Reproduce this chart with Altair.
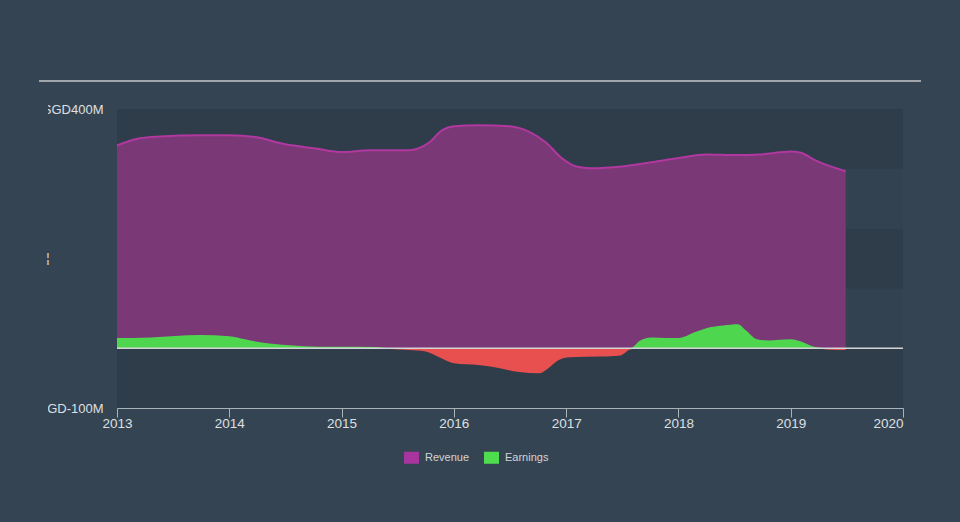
import altair as alt
import pandas as pd

# ---- data ----
rev_x = [2013.0, 2013.2, 2013.38, 2013.74, 2014.0, 2014.23, 2014.5, 2014.77, 2015.0, 2015.25,
         2015.6, 2015.78, 2015.9, 2016.0, 2016.22, 2016.5, 2016.68, 2016.82, 2016.96, 2017.09,
         2017.22, 2017.5, 2017.76, 2018.0, 2018.25, 2018.5, 2018.73, 2019.0, 2019.09, 2019.22, 2019.49]
revenue = [339, 351, 354, 356, 356, 353, 341, 334, 328, 331,
           331, 344, 365, 371, 373, 371, 361, 344, 318, 304,
           301, 304, 311, 318, 324, 323, 324, 329, 327, 314, 296]

earn_x = [2013.0, 2013.3, 2013.74, 2014.0, 2014.14, 2014.27, 2014.54, 2014.8, 2015.0, 2015.3,
          2015.43, 2015.6, 2015.74, 2015.87, 2016.0, 2016.22, 2016.4, 2016.58, 2016.76, 2016.83,
          2016.93, 2017.03, 2017.3, 2017.48, 2017.57, 2017.66, 2017.76, 2017.9, 2018.0, 2018.15,
          2018.28, 2018.4, 2018.53, 2018.6, 2018.7, 2018.8, 2019.0, 2019.08, 2019.22, 2019.35, 2019.49]
earnings = [17, 18, 22, 20, 15, 10, 5, 2.5, 2.5, 2,
            -1.5, -3, -5, -15, -25, -28, -33, -40, -42, -35,
            -20, -15, -14, -12, -2, 13, 18, 17, 17, 27,
            35, 38, 40, 30, 15, 13, 15, 12, 2, -2.5, -3]

series_names = ["Revenue", "Earnings"]
legend_colors = ["#a8349e", "#4fdd4f"]

band_lo = [-100, 0, 100, 200, 300]
band_hi = [0, 100, 200, 300, 400]
band_kind = ["dark", "light", "dark", "light", "dark"]

year_ticks = [2013, 2014, 2015, 2016, 2017, 2018, 2019, 2020]
y_ticks = [-100, 400]

W, H = 786, 299
BG = "#354452"
FONT = "Liberation Sans"

rev_df = pd.DataFrame({"x": rev_x, "v": revenue})
earn_df = pd.DataFrame({"x": earn_x, "v": earnings})
band_df = pd.DataFrame({"lo": band_lo, "hi": band_hi, "kind": band_kind})
leg_df = pd.DataFrame({"x": [2013, 2013], "v": [0, 0], "series": series_names})

xscale = alt.Scale(domain=[2013, 2020], nice=False, zero=False)
yscale = alt.Scale(domain=[-100, 400], nice=False, zero=False)

xaxis = alt.Axis(
    values=year_ticks, format="d", title=None, grid=False,
    domainColor="#aab2ba", domainWidth=1, tickColor="#aab2ba", tickSize=9, tickWidth=1,
    labelColor="#dde0e3", labelFont=FONT, labelFontSize=13.5, labelPadding=-1,
    labelAlign={"condition": {"test": "datum.value == 2020", "value": "right"}, "value": "center"},
    labelFlush=False,
)
yaxis = alt.Axis(
    values=y_ticks, title=None, grid=False, domain=False, ticks=False,
    labelExpr="'SGD' + datum.value + 'M'",
    labelColor="#dde0e3", labelFont=FONT, labelFontSize=13, labelPadding=14,
    labelBaseline="middle",
)

bands = alt.Chart(band_df).mark_rect().encode(
    x=alt.value(0), x2=alt.value(W),
    y=alt.Y("lo:Q", scale=yscale, axis=yaxis), y2="hi:Q",
    fill=alt.Fill("kind:N", scale=alt.Scale(domain=["dark", "light"], range=["#2f3d4b", "#334250"]), legend=None),
)

rev_area = alt.Chart(rev_df).mark_area(
    interpolate="monotone", color="#7b3877", opacity=1, fillOpacity=1,
    line={"color": "#b0389f", "strokeWidth": 2},
).encode(
    x=alt.X("x:Q", scale=xscale, axis=xaxis),
    y=alt.Y("v:Q", scale=yscale),
)

earn_pos = alt.Chart(earn_df).transform_calculate(p="max(datum.v, 0)").mark_area(
    interpolate="monotone", color="#4fd64f", opacity=1, fillOpacity=1,
).encode(x=alt.X("x:Q", scale=xscale), y=alt.Y("p:Q", scale=yscale))

earn_neg = alt.Chart(earn_df).transform_calculate(n="min(datum.v, 0)").mark_area(
    interpolate="monotone", color="#e8504f", opacity=1, fillOpacity=1,
).encode(x=alt.X("x:Q", scale=xscale), y=alt.Y("n:Q", scale=yscale))

zero_rule = alt.Chart(pd.DataFrame({"z": [0]})).mark_rule(color="#d3d6d9", strokeWidth=1.5).encode(
    y=alt.Y("z:Q", scale=yscale), x=alt.value(0), x2=alt.value(W),
)

top_rule = alt.Chart(pd.DataFrame({"z": [0]})).mark_rule(color="#c3c8cd", strokeWidth=1.5).encode(
    y=alt.value(-28), x=alt.value(-78), x2=alt.value(804),
)

# mask that crops the left edge of the y labels as in the reference
mask = alt.Chart(pd.DataFrame({"z": [0]})).mark_rect(color=BG).encode(
    x=alt.value(-120), x2=alt.value(-69), y=alt.value(-20), y2=alt.value(312),
)

# remnant of the clipped middle y label
sliver = alt.Chart(pd.DataFrame({"t": ["¦"]})).mark_text(
    color="#dde0e3", font=FONT, fontSize=13, align="center", baseline="middle",
).encode(text="t:N", x=alt.value(-69), y=alt.value(149))

legend_layer = alt.Chart(leg_df).mark_point(opacity=0, filled=True).encode(
    x=alt.X("x:Q", scale=xscale), y=alt.Y("v:Q", scale=yscale),
    color=alt.Color("series:N", scale=alt.Scale(domain=series_names, range=legend_colors),
                    legend=alt.Legend(
                        title=None, orient="none", legendX=287, legendY=341, direction="horizontal",
                        symbolType="M-1,-0.8H1V0.8H-1Z", symbolSize=225, symbolOpacity=1,
                        symbolStrokeWidth=0, labelFont=FONT, labelFontSize=11, labelColor="#d0d4d8",
                        labelOffset=6, columnPadding=14, padding=0,
                    )),
)

chart = alt.layer(bands, rev_area, earn_pos, earn_neg, zero_rule, top_rule, mask, sliver, legend_layer).resolve_scale(
    color="independent", fill="independent",
).properties(
    width=W, height=H, background=BG,
    padding={"left": 117, "top": 109, "right": 57, "bottom": 114},
    autosize=alt.AutoSizeParams(type="none"),
).configure_view(stroke=None)

chart.save("out.html", embed_options={"renderer": "svg", "actions": False})
